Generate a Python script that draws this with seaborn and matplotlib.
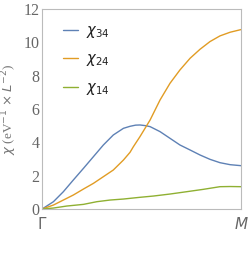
import numpy as np
import pandas as pd
import matplotlib
matplotlib.use("Agg")
import matplotlib.pyplot as plt
import seaborn as sns

# path Gamma -> M, normalised to [0, 1]
k_blue = [0.0, 0.057, 0.107, 0.157, 0.208, 0.258, 0.308, 0.358, 0.409, 0.442, 0.470,
          0.492, 0.520, 0.543, 0.593, 0.643, 0.693, 0.744, 0.794, 0.844, 0.894, 0.945, 1.0]
chi34 = [0.0, 0.44, 1.04, 1.74, 2.44, 3.14, 3.84, 4.44, 4.84, 4.96, 5.03,
         5.04, 5.0, 4.94, 4.64, 4.24, 3.84, 3.54, 3.24, 2.98, 2.78, 2.66, 2.6]

k_orange = [0.0, 0.057, 0.107, 0.157, 0.208, 0.258, 0.308, 0.358, 0.409, 0.442, 0.459,
            0.492, 0.543, 0.593, 0.643, 0.693, 0.744, 0.794, 0.844, 0.894, 0.945, 1.0]
chi24 = [0.0, 0.24, 0.54, 0.84, 1.2, 1.54, 1.94, 2.34, 2.94, 3.4, 3.74,
         4.34, 5.34, 6.54, 7.54, 8.34, 9.04, 9.58, 10.04, 10.38, 10.6, 10.76]

k_green = [0.0, 0.057, 0.124, 0.208, 0.275, 0.342, 0.409, 0.489, 0.56, 0.643,
           0.727, 0.81, 0.894, 0.945, 1.0]
chi14 = [0.0, 0.06, 0.18, 0.28, 0.44, 0.54, 0.6, 0.7, 0.78, 0.9,
         1.04, 1.18, 1.34, 1.35, 1.34]

labels = [r"$\chi_{34}$", r"$\chi_{24}$", r"$\chi_{14}$"]
colors = ["#5E81B5", "#E19C24", "#8FB032"]

sns.set_style("white")
plt.rcParams["font.family"] = ["Liberation Serif", "DejaVu Serif"]
plt.rcParams["mathtext.fontset"] = "dejavusans"

fig = plt.figure(figsize=(2.49, 2.54), dpi=100)
ax = fig.add_axes([0.169, 0.177, 0.799, 0.788])

series = [(k_blue, chi34), (k_orange, chi24), (k_green, chi14)]
for (kx, vals), lab, col in zip(series, labels, colors):
    df = pd.DataFrame({"k": kx, "chi": vals})
    sns.lineplot(data=df, x="k", y="chi", color=col, lw=1.0, label=lab, ax=ax)

ax.set_xlim(0, 1)
ax.set_ylim(0, 12)
ax.set_xticks([0, 1])
ax.set_xticklabels([r"$\Gamma$", r"$M$"])
ax.set_yticks(range(0, 13, 2))
ax.set_yticks(np.arange(0, 12.01, 0.4), minor=True)
ax.set_xlabel("")
ax.set_ylabel(r"$\chi$ (eV$^{-1}$ $\times$ $L^{-2}$)", color="#777777", fontsize=9.5, labelpad=3)

ax.tick_params(axis="y", which="major", direction="in", length=4, width=0.6,
               color="#aaaaaa", labelcolor="#666666", labelsize=11.5, pad=2)
ax.tick_params(axis="y", which="minor", direction="in", length=2, width=0.5, color="#bbbbbb")
ax.tick_params(axis="x", length=0, labelcolor="#666666", labelsize=11, pad=5)
for lbl in ax.get_xticklabels():
    lbl.set_fontfamily("DejaVu Serif")
for s in ax.spines.values():
    s.set_color("#bbbbbb")
    s.set_linewidth(0.8)

leg = ax.legend(loc="upper left", bbox_to_anchor=(0.04, 0.99), frameon=False,
                fontsize=10.5, handlelength=1.0, labelspacing=0.85, handletextpad=0.6)
for t in leg.get_texts():
    t.set_color("#222222")

fig.savefig("out.png", dpi=100)
